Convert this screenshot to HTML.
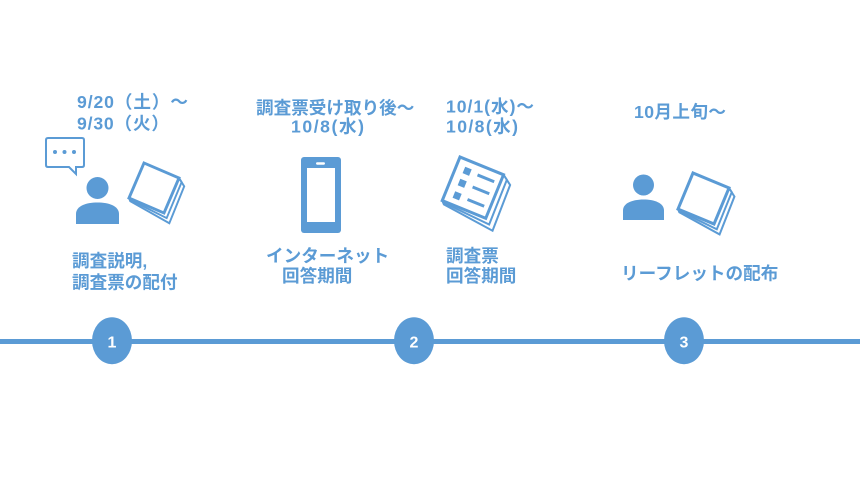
<!DOCTYPE html>
<html>
<head>
<meta charset="utf-8">
<style>
  html,body{margin:0;padding:0;background:#fff;}
  svg{display:block;}
  text{font-family:"Liberation Sans","Noto Sans CJK JP",sans-serif;font-weight:bold;fill:#5B9BD5;font-size:17.6px;}
  .num{fill:#fff;font-size:16px;}
</style>
</head>
<body>
<svg width="860" height="484" viewBox="0 0 860 484" xmlns="http://www.w3.org/2000/svg">
  <rect x="0" y="0" width="860" height="484" fill="#fff"/>

  <!-- timeline -->
  <rect x="0" y="339" width="860" height="5" fill="#5B9BD5"/>
  <ellipse cx="112" cy="340.7" rx="20" ry="23.5" fill="#5B9BD5"/>
  <ellipse cx="414" cy="340.7" rx="20" ry="23.5" fill="#5B9BD5"/>
  <ellipse cx="684" cy="340.7" rx="20" ry="23.5" fill="#5B9BD5"/>
  <text class="num" x="112" y="347.5" text-anchor="middle">1</text>
  <text class="num" x="414" y="347.5" text-anchor="middle">2</text>
  <text class="num" x="684" y="347.5" text-anchor="middle">3</text>

  <!-- Block 1 -->
  <text x="77" y="108" textLength="111" lengthAdjust="spacing">9/20（土）～</text>
  <text x="77" y="129.5" textLength="92" lengthAdjust="spacing">9/30（火）</text>

  <!-- speech bubble -->
  <path d="M48 138 H82 Q84 138 84 140 V165 Q84 167 82 167 H76 V174 L69 167 H48 Q46 167 46 165 V140 Q46 138 48 138 Z" fill="none" stroke="#5B9BD5" stroke-width="2"/>
  <circle cx="55" cy="152" r="2" fill="#5B9BD5"/>
  <circle cx="64.5" cy="152" r="2" fill="#5B9BD5"/>
  <circle cx="74" cy="152" r="2" fill="#5B9BD5"/>

  <!-- person 1 -->
  <circle cx="97.5" cy="188" r="11" fill="#5B9BD5"/>
  <path d="M76 224 V214 C76 206 86 202.5 97.5 202.5 C109 202.5 119 206 119 214 V224 Z" fill="#5B9BD5"/>

  <!-- paper 1 -->
  <g transform="translate(144,163) rotate(23.2) scale(0.81)" fill="#fff" stroke="#5B9BD5">
    <polygon points="0,47 3,50 58,56 57,7 47,0 0,0" stroke-width="2.4"/>
    <polygon points="0,47 2,48.5 52.5,51.5 52,3.5 47,0 0,0" stroke-width="2.4"/>
    <rect x="0" y="0" width="47" height="47" stroke-width="3.6"/>
  </g>

  <text x="72" y="267">調査説明,</text>
  <text x="72" y="288.5">調査票の配付</text>

  <!-- Block 2 -->
  <text x="256" y="114">調査票受け取り後～</text>
  <text x="291" y="132.7" textLength="73" lengthAdjust="spacing">10/8(水)</text>

  <!-- phone -->
  <rect x="301" y="157" width="40" height="76" rx="3" fill="#5B9BD5"/>
  <rect x="307" y="168" width="28" height="54" fill="#fff"/>
  <rect x="316" y="162.3" width="9" height="2.4" rx="1.2" fill="#fff"/>

  <text x="266" y="262">インターネット</text>
  <text x="282" y="282">回答期間</text>

  <!-- Block 2b -->
  <text x="446" y="112.7" textLength="88" lengthAdjust="spacing">10/1(水)～</text>
  <text x="446" y="132.7" textLength="72" lengthAdjust="spacing">10/8(水)</text>

  <!-- questionnaire -->
  <g transform="translate(460,157) rotate(22.2)" fill="#fff" stroke="#5B9BD5">
    <polygon points="0,47 3,50 58,56 57,7 47,0 0,0" stroke-width="2"/>
    <polygon points="0,47 2,48.5 52.5,51.5 52,3.5 47,0 0,0" stroke-width="2"/>
    <rect x="0" y="0" width="47" height="47" stroke-width="3"/>
    <rect x="8.5" y="7" width="7" height="7" fill="#5B9BD5" stroke="none"/>
    <rect x="8.5" y="20" width="7" height="7" fill="#5B9BD5" stroke="none"/>
    <rect x="8.5" y="33.5" width="7" height="7" fill="#5B9BD5" stroke="none"/>
    <line x1="23" y1="10" x2="41" y2="10" stroke-width="3"/>
    <line x1="23" y1="23" x2="41" y2="23" stroke-width="3"/>
    <line x1="23" y1="36.5" x2="41" y2="36.5" stroke-width="3"/>
  </g>

  <text x="446" y="262">調査票</text>
  <text x="446" y="282">回答期間</text>

  <!-- Block 3 -->
  <text x="634" y="118" textLength="92" lengthAdjust="spacing">10月上旬～</text>

  <!-- person 3 -->
  <circle cx="643.5" cy="185" r="10.5" fill="#5B9BD5"/>
  <path d="M623 220 V210.5 C623 203 632.5 199.5 643.5 199.5 C654.5 199.5 664 203 664 210.5 V220 Z" fill="#5B9BD5"/>

  <!-- paper 3 -->
  <g transform="translate(693,173) rotate(22.6) scale(0.83)" fill="#fff" stroke="#5B9BD5">
    <polygon points="0,47 3,50 58,56 57,7 47,0 0,0" stroke-width="2.4"/>
    <polygon points="0,47 2,48.5 52.5,51.5 52,3.5 47,0 0,0" stroke-width="2.4"/>
    <rect x="0" y="0" width="47" height="47" stroke-width="3.6"/>
  </g>

  <text x="621" y="279.5">リーフレットの配布</text>
</svg>
</body>
</html>
